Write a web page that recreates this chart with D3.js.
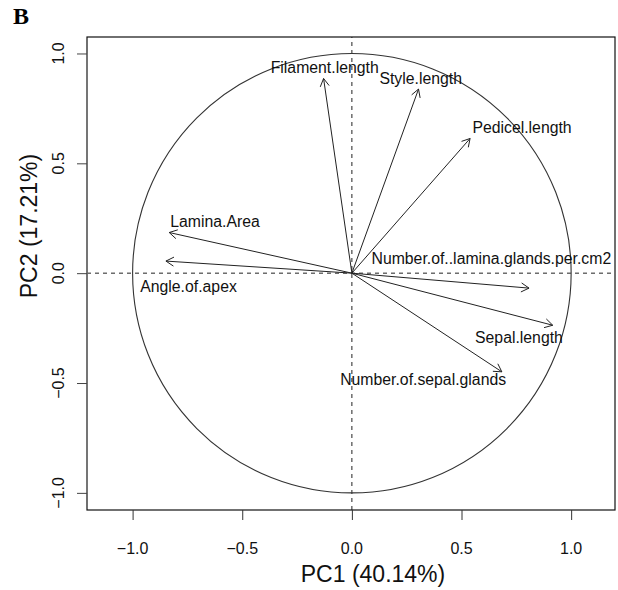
<!DOCTYPE html>
<html>
<head>
<meta charset="utf-8">
<script src="https://cdn.jsdelivr.net/npm/d3@7"></script>
<style>
  html, body { margin: 0; padding: 0; background: #fff; }
  svg { display: block; }
  text { font-family: "Liberation Sans", Arial, sans-serif; fill: #111; }
</style>
</head>
<body>
<svg id="chart" width="618" height="590"></svg>
<script>
// Variables factor map (PCA correlation circle)
const variables = [
  "Filament.length", "Style.length", "Pedicel.length", "Lamina.Area",
  "Angle.of.apex", "Number.of..lamina.glands.per.cm2", "Sepal.length",
  "Number.of.sepal.glands"
];
// Coordinates of each variable on PC1 and PC2
const pc1 = [-0.129, 0.304, 0.539, -0.833, -0.848, 0.808, 0.916, 0.684];
const pc2 = [0.886, 0.838, 0.613, 0.185, 0.055, -0.068, -0.237, -0.449];
// Label anchor points (text centre, baseline) after label repelling
const labelPc1 = [-0.124, 0.314, 0.776, -0.624, -0.745, 0.636, 0.762, 0.325];
const labelPc2 = [0.909, 0.863, 0.636, 0.211, -0.085, 0.044, -0.317, -0.510];

const tickValues = [-1, -0.5, 0, 0.5, 1];
const tickLabels = ["\u22121.0", "\u22120.5", "0.0", "0.5", "1.0"];
const xTitle = "PC1 (40.14%)";
const yTitle = "PC2 (17.21%)";
const panelTag = "B";

const xLimits = [-1.208, 1.2];
const yLimits = [-1.078, 1.075];

const box = { left: 87, right: 615, top: 37, bottom: 510 };

const svg = d3.select("#chart");
const x = d3.scaleLinear().domain(xLimits).range([box.left, box.right]);
const y = d3.scaleLinear().domain(yLimits).range([box.bottom, box.top]);

// panel tag
svg.append("text")
  .attr("x", 13).attr("y", 24)
  .style("font-family", "'Liberation Serif', 'Times New Roman', serif")
  .style("font-weight", "bold")
  .style("font-size", "24px")
  .style("fill", "#000")
  .text(panelTag);

// reference lines through the origin
const dash = "4,4";
svg.append("line")
  .attr("x1", x(xLimits[0])).attr("x2", x(xLimits[1]))
  .attr("y1", y(0)).attr("y2", y(0))
  .attr("stroke", "#222").attr("stroke-width", 1)
  .attr("stroke-dasharray", dash);
svg.append("line")
  .attr("x1", x(0)).attr("x2", x(0))
  .attr("y1", y(yLimits[0])).attr("y2", y(yLimits[1]))
  .attr("stroke", "#222").attr("stroke-width", 1)
  .attr("stroke-dasharray", dash);

// unit circle
svg.append("ellipse")
  .attr("cx", x(0)).attr("cy", y(0))
  .attr("rx", x(1) - x(0)).attr("ry", y(0) - y(1))
  .attr("fill", "none").attr("stroke", "#333").attr("stroke-width", 1.1);

// arrows
const headLen = 9, headAng = Math.PI / 6;
const arrows = svg.append("g");
variables.forEach((v, i) => {
  const x0 = x(0), y0 = y(0), x1 = x(pc1[i]), y1 = y(pc2[i]);
  const a = Math.atan2(y1 - y0, x1 - x0);
  arrows.append("line")
    .attr("x1", x0).attr("y1", y0).attr("x2", x1).attr("y2", y1)
    .attr("stroke", "#222").attr("stroke-width", 1);
  const p = d3.path();
  p.moveTo(x1 - headLen * Math.cos(a - headAng), y1 - headLen * Math.sin(a - headAng));
  p.lineTo(x1, y1);
  p.lineTo(x1 - headLen * Math.cos(a + headAng), y1 - headLen * Math.sin(a + headAng));
  arrows.append("path").attr("d", p.toString())
    .attr("fill", "none").attr("stroke", "#222").attr("stroke-width", 1);
});

// variable labels
svg.append("g").selectAll("text")
  .data(variables)
  .join("text")
  .attr("x", (d, i) => x(labelPc1[i]))
  .attr("y", (d, i) => y(labelPc2[i]))
  .attr("text-anchor", "middle")
  .style("font-size", "15.8px")
  .text(d => d);

// plot frame
svg.append("rect")
  .attr("x", box.left).attr("y", box.top)
  .attr("width", box.right - box.left).attr("height", box.bottom - box.top)
  .attr("fill", "none").attr("stroke", "#111").attr("stroke-width", 1.2);

// bottom axis
const xAxis = svg.append("g")
  .attr("transform", `translate(0,${box.bottom})`)
  .call(d3.axisBottom(x).tickValues(tickValues).tickSize(10).tickFormat(""));
xAxis.select(".domain").remove();
xAxis.selectAll(".tick line").attr("stroke", "#333");
svg.append("g").selectAll("text")
  .data(tickValues)
  .join("text")
  .attr("x", d => x(d))
  .attr("y", 554)
  .attr("text-anchor", "middle")
  .style("font-size", "16px")
  .text((d, i) => tickLabels[i]);

// left axis
const yAxis = svg.append("g")
  .attr("transform", `translate(${box.left},0)`)
  .call(d3.axisLeft(y).tickValues(tickValues).tickSize(10).tickFormat(""));
yAxis.select(".domain")
  .attr("d", `M0,${y(-1)}V${y(1)}`)
  .attr("stroke", "#777").attr("stroke-width", 1.5);
yAxis.selectAll(".tick line").attr("stroke", "#444");
svg.append("g").selectAll("text")
  .data(tickValues)
  .join("text")
  .attr("transform", d => `translate(64,${y(d)}) rotate(-90)`)
  .attr("text-anchor", "middle")
  .style("font-size", "16px")
  .text((d, i) => tickLabels[i]);

// axis titles
svg.append("text")
  .attr("x", 373).attr("y", 582)
  .attr("text-anchor", "middle")
  .style("font-size", "23px")
  .text(xTitle);
svg.append("text")
  .attr("transform", "translate(37,226) rotate(-90)")
  .attr("text-anchor", "middle")
  .style("font-size", "23px")
  .text(yTitle);
</script>
</body>
</html>
